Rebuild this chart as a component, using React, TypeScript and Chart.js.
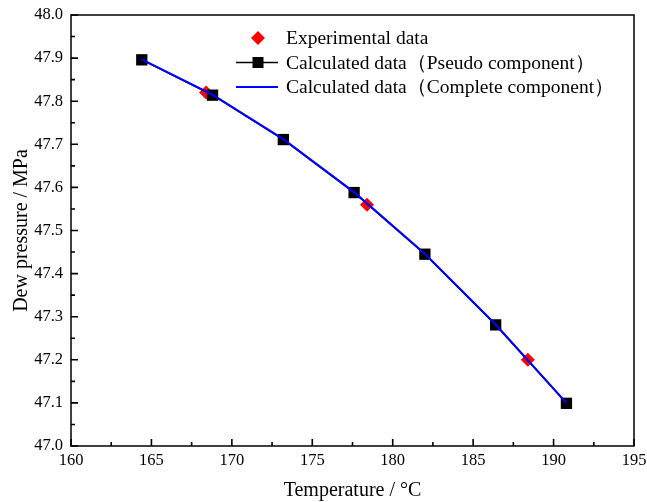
import { useEffect, useRef } from "react";
import { Chart, registerables } from "chart.js";
Chart.register(...registerables);

const temps = [164.4, 168.8, 173.2, 177.6, 182.0, 186.4, 190.8];
const pseudo = [47.896, 47.814, 47.711, 47.588, 47.445, 47.281, 47.099];
const complete = [47.897, 47.815, 47.712, 47.589, 47.446, 47.282, 47.1];
const expTemps = [168.4, 178.4, 188.4];
const expP = [47.82, 47.56, 47.2];
const xTickLabels = [160, 165, 170, 175, 180, 185, 190, 195];
const yTickLabels = [47.0, 47.1, 47.2, 47.3, 47.4, 47.5, 47.6, 47.7, 47.8, 47.9, 48.0];
const legendLabels = [
  "Experimental data",
  "Calculated data（Pseudo component）",
  "Calculated data（Complete component）",
];

const FONT = "'Liberation Serif', 'Times New Roman', serif";

const framePlugin = {
  id: "frame",
  afterDraw(chart: any) {
    const { ctx, chartArea: a, scales } = chart;
    const xs = scales.x;
    const ys = scales.y;
    ctx.save();
    ctx.strokeStyle = "#000";
    ctx.lineWidth = 1.5;
    ctx.strokeRect(a.left, a.top, a.right - a.left, a.bottom - a.top);
    ctx.lineWidth = 1.6;
    ctx.beginPath();
    for (let i = 0; i < xTickLabels.length; i++) {
      const v = xTickLabels[i];
      const px = xs.getPixelForValue(v);
      ctx.moveTo(px, a.bottom);
      ctx.lineTo(px, a.bottom - 7);
      if (i < xTickLabels.length - 1) {
        const m = xs.getPixelForValue((v + xTickLabels[i + 1]) / 2);
        ctx.moveTo(m, a.bottom);
        ctx.lineTo(m, a.bottom - 4);
      }
    }
    for (let i = 0; i < yTickLabels.length; i++) {
      const v = yTickLabels[i];
      const py = ys.getPixelForValue(v);
      ctx.moveTo(a.left, py);
      ctx.lineTo(a.left + 7, py);
      if (i < yTickLabels.length - 1) {
        const m = ys.getPixelForValue((v + yTickLabels[i + 1]) / 2);
        ctx.moveTo(a.left, m);
        ctx.lineTo(a.left + 4, m);
      }
    }
    ctx.stroke();

    // legend
    const lx = 236, lx2 = 278, mx = 258, tx = 286;
    const rows = [38, 62.5, 87];
    ctx.font = "19.5px " + FONT;
    ctx.fillStyle = "#000";
    ctx.textBaseline = "middle";
    ctx.textAlign = "left";
    ctx.fillStyle = "#ff0000";
    ctx.beginPath();
    ctx.moveTo(mx - 7, rows[0]);
    ctx.lineTo(mx, rows[0] - 7);
    ctx.lineTo(mx + 7, rows[0]);
    ctx.lineTo(mx, rows[0] + 7);
    ctx.closePath();
    ctx.fill();
    ctx.strokeStyle = "#000";
    ctx.lineWidth = 1.5;
    ctx.beginPath();
    ctx.moveTo(lx, rows[1]);
    ctx.lineTo(lx2, rows[1]);
    ctx.stroke();
    ctx.fillStyle = "#000";
    ctx.fillRect(mx - 5.5, rows[1] - 5.5, 11, 11);
    ctx.strokeStyle = "#0000ff";
    ctx.lineWidth = 1.8;
    ctx.beginPath();
    ctx.moveTo(lx, rows[2]);
    ctx.lineTo(lx2, rows[2]);
    ctx.stroke();
    ctx.fillStyle = "#000";
    for (let i = 0; i < legendLabels.length; i++) {
      ctx.fillText(legendLabels[i], tx, rows[i] + 1);
    }
    ctx.restore();
  },
};

export default function App() {
  const ref = useRef<HTMLCanvasElement>(null);
  useEffect(() => {
    if (!ref.current) return;
    const chart = new Chart(ref.current, {
      type: "scatter",
      data: {
        datasets: [
          {
            label: legendLabels[2],
            data: temps.map((t, i) => ({ x: t, y: complete[i] })),
            showLine: true,
            borderColor: "#0000ff",
            borderWidth: 2,
            pointRadius: 0,
            order: 0,
          },
          {
            label: legendLabels[1],
            data: temps.map((t, i) => ({ x: t, y: pseudo[i] })),
            showLine: true,
            borderColor: "#000",
            borderWidth: 1.5,
            pointStyle: "rect",
            pointRadius: 8,
            pointBackgroundColor: "#000",
            pointBorderColor: "#000",
            pointBorderWidth: 0,
            order: 1,
          },
          {
            label: legendLabels[0],
            data: expTemps.map((t, i) => ({ x: t, y: expP[i] })),
            showLine: false,
            pointStyle: "rectRot",
            pointRadius: 7,
            pointBackgroundColor: "#ff0000",
            pointBorderColor: "#ff0000",
            pointBorderWidth: 0,
            order: 2,
          },
        ],
      },
      options: {
        responsive: false,
        animation: false,
        devicePixelRatio: 1,
        layout: { padding: { top: 15, right: 13, left: 0, bottom: 0 } },
        plugins: { legend: { display: false }, tooltip: { enabled: false } },
        scales: {
          x: {
            type: "linear",
            min: xTickLabels[0],
            max: xTickLabels[xTickLabels.length - 1],
            afterBuildTicks: (s: any) => {
              s.ticks = xTickLabels.map((v) => ({ value: v }));
            },
            afterFit: (s: any) => {
              s.height = 56;
              s.paddingLeft = 0;
              s.paddingRight = 0;
            },
            grid: { display: false, drawTicks: false },
            border: { display: false },
            ticks: {
              color: "#000",
              padding: 5,
              font: { family: FONT, size: 16.5 },
              maxRotation: 0,
              callback: (v: any) => String(v),
            },
            title: {
              display: true,
              text: "Temperature / °C",
              color: "#000",
              font: { family: FONT, size: 20 },
              padding: { top: 0, bottom: -1 },
            },
          },
          y: {
            type: "linear",
            min: yTickLabels[0],
            max: yTickLabels[yTickLabels.length - 1],
            afterBuildTicks: (s: any) => {
              s.ticks = yTickLabels.map((v) => ({ value: v }));
            },
            afterFit: (s: any) => {
              s.width = 71;
              s.paddingTop = 0;
              s.paddingBottom = 0;
            },
            grid: { display: false, drawTicks: false },
            border: { display: false },
            ticks: {
              color: "#000",
              padding: 8,
              font: { family: FONT, size: 16.5 },
              callback: (v: any) => Number(v).toFixed(1),
            },
            title: {
              display: true,
              text: "Dew pressure / MPa",
              color: "#000",
              font: { family: FONT, size: 20 },
              padding: { top: 10, bottom: 0 },
            },
          },
        },
      },
      plugins: [framePlugin],
    });
    return () => chart.destroy();
  }, []);
  return (
    <div style={{ position: "absolute", left: 0, top: 0, width: 647, height: 502, background: "#fff" }}>
      <canvas ref={ref} width={647} height={502} />
    </div>
  );
}
